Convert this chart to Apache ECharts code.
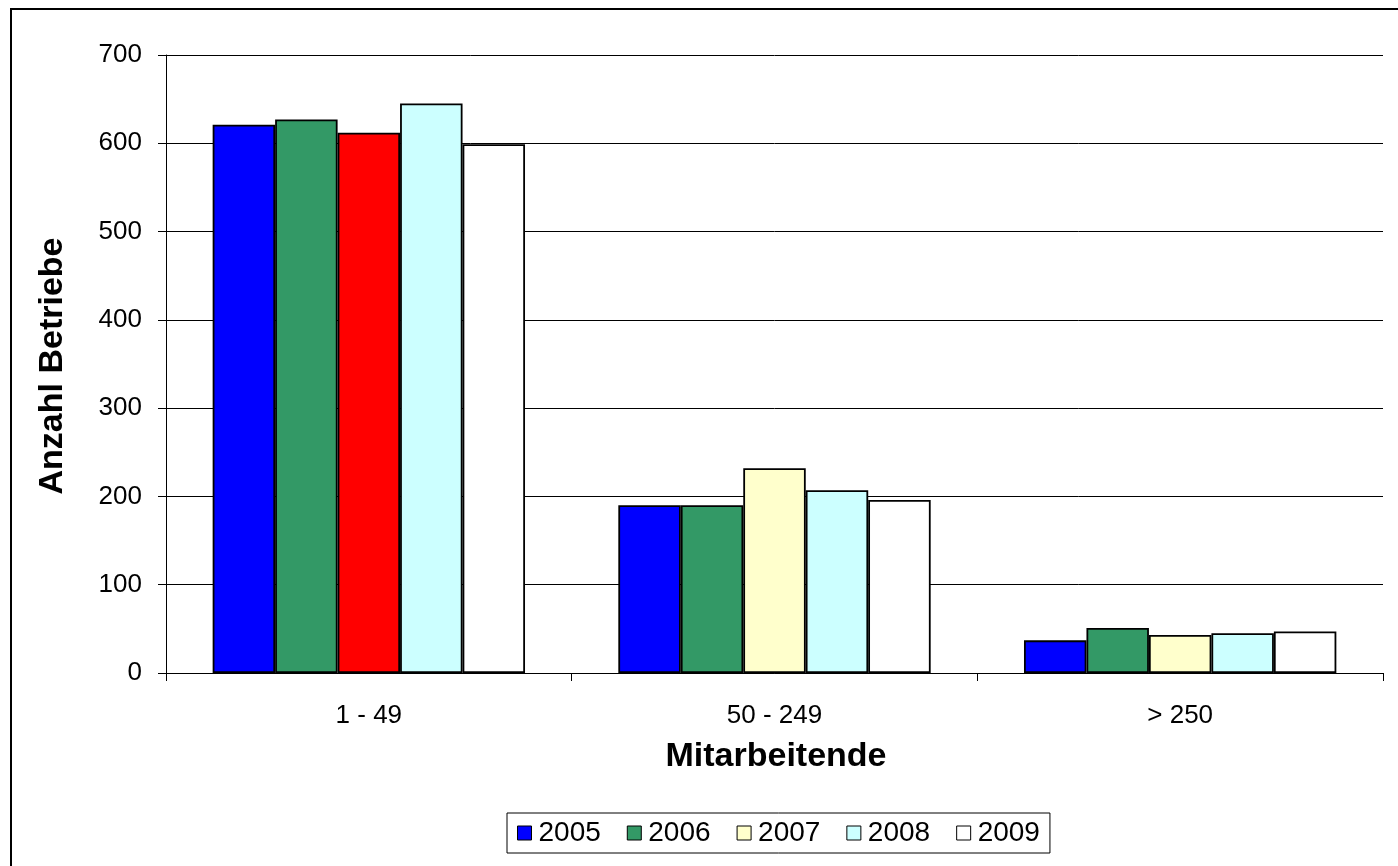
<!DOCTYPE html>
<html>
<head>
<meta charset="utf-8">
<script src="https://cdn.jsdelivr.net/npm/echarts@6/dist/echarts.min.js"></script>
<style>
html,body{margin:0;padding:0;background:#fff;}
#chart{width:1398px;height:866px;}
</style>
</head>
<body>
<div id="chart"></div>
<script>
var categories = ['1 - 49', '50 - 249', '> 250'];
var years = ['2005', '2006', '2007', '2008', '2009'];
var v2005 = [621, 190, 37];
var v2006 = [627, 190, 51];
var v2007 = [612, 232, 43];
var v2008 = [645, 207, 45];
var v2009 = [599, 196, 47];
var yTicks = [0, 100, 200, 300, 400, 500, 600, 700];
var yTitle = 'Anzahl Betriebe';
var xTitle = 'Mitarbeitende';

var colors = ['#0000FF', '#339966', '#FFFFCC', '#CCFFFF', '#FFFFFF'];
var FONT = 'Arial, "Liberation Sans", sans-serif';

function mkSeries(name, vals, color, overrides) {
  return {
    name: name,
    type: 'bar',
    barGap: '0%',
    barCategoryGap: '23%',
    itemStyle: { color: color, borderColor: '#000', borderWidth: 1.8 },
    emphasis: { disabled: true },
    data: vals.map(function (v, i) {
      if (overrides && overrides[i]) {
        return { value: v, itemStyle: { color: overrides[i] } };
      }
      return v;
    })
  };
}

var chart = echarts.init(document.getElementById('chart'), null, { renderer: 'canvas' });
chart.setOption({
  backgroundColor: '#fff',
  animation: false,
  textStyle: { fontFamily: FONT, color: '#000' },
  grid: { left: 166, right: 15, top: 55, bottom: 193, containLabel: false },
  legend: {
    data: years,
    left: 507,
    top: 813,
    orient: 'horizontal',
    icon: 'rect',
    itemWidth: 14,
    itemHeight: 14,
    itemGap: 26,
    padding: [6, 10, 6, 10],
    borderColor: '#000',
    borderWidth: 1,
    textStyle: { fontFamily: FONT, fontSize: 28, color: '#000', padding: [0, 0, 0, 2] },
    itemStyle: { borderColor: '#000', borderWidth: 1 }
  },
  xAxis: {
    type: 'category',
    data: categories,
    axisLine: { lineStyle: { color: '#000', width: 1 } },
    axisTick: { show: true, length: 8, alignWithLabel: false, lineStyle: { color: '#000' } },
    axisLabel: { fontFamily: FONT, fontSize: 26, color: '#000', margin: 30 },
    splitLine: { show: false }
  },
  yAxis: {
    type: 'value',
    min: 0,
    max: 700,
    interval: 100,
    axisLine: { show: true, lineStyle: { color: '#000', width: 1 } },
    axisTick: { show: true, length: 8, lineStyle: { color: '#000' } },
    axisLabel: {
      fontFamily: FONT, fontSize: 26, color: '#000', margin: 24,
      formatter: function (v) { return yTicks.indexOf(v) >= 0 ? String(v) : ''; }
    },
    splitLine: { show: true, lineStyle: { color: '#000', width: 1 } }
  },
  graphic: [
    {
      type: 'rect',
      shape: { x: 11, y: 9, width: 1600, height: 1200 },
      style: { fill: 'none', stroke: '#000', lineWidth: 2 },
      silent: true,
      z: 100
    },
    {
      type: 'text',
      x: 53,
      y: 366,
      rotation: Math.PI / 2,
      style: {
        text: yTitle,
        fontFamily: FONT,
        fontSize: 34,
        fontWeight: 'bold',
        fill: '#000',
        textAlign: 'center',
        textVerticalAlign: 'middle'
      },
      silent: true
    },
    {
      type: 'text',
      x: 776,
      y: 757,
      style: {
        text: xTitle,
        fontFamily: FONT,
        fontSize: 34,
        fontWeight: 'bold',
        fill: '#000',
        textAlign: 'center',
        textVerticalAlign: 'middle'
      },
      silent: true
    }
  ],
  series: [
    mkSeries(years[0], v2005, colors[0]),
    mkSeries(years[1], v2006, colors[1]),
    mkSeries(years[2], v2007, colors[2], { 0: '#FF0000' }),
    mkSeries(years[3], v2008, colors[3]),
    mkSeries(years[4], v2009, colors[4])
  ]
});
</script>
</body>
</html>
